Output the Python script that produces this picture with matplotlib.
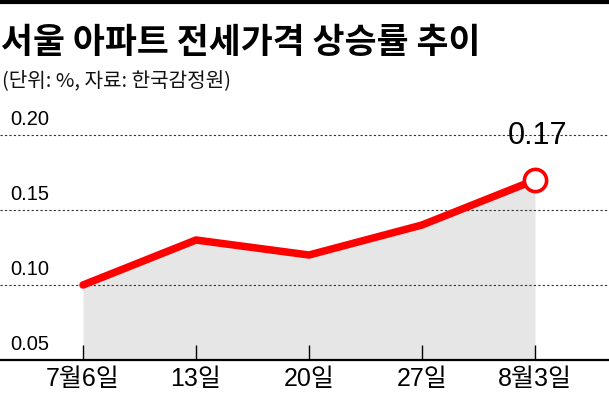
import matplotlib.pyplot as plt
import matplotlib.transforms as mtransforms
from matplotlib import font_manager
from matplotlib.lines import Line2D

# data
weeks = ['7월6일', '13일', '20일', '27일', '8월3일']
rates = [0.10, 0.13, 0.12, 0.14, 0.17]
y_ticks = [0.05, 0.10, 0.15, 0.20]
y_labels = ['0.05', '0.10', '0.15', '0.20']

names = {f.name for f in font_manager.fontManager.ttflist}
num_font = 'Liberation Sans Narrow' if 'Liberation Sans Narrow' in names else 'Liberation Sans'
narrow = num_font == 'Liberation Sans Narrow'
plt.rcParams['font.family'] = [num_font, 'Noto Sans CJK KR', 'DejaVu Sans']

fig = plt.figure(figsize=(6.09, 4.01), dpi=100)
W, H = 609, 401

# top black bar
fig.add_artist(Line2D([0, 1], [1 - 1.5 / H, 1 - 1.5 / H], color='black', lw=3, transform=fig.transFigure))

fig.text(1 / W, 1 - 42 / H, '서울 아파트 전세가격 상승률 추이', fontsize=25, fontweight='heavy',
         family=['Noto Sans CJK KR'], va='center', ha='left')
fig.text(2 / W, 1 - 81 / H, '(단위: %, 자료: 한국감정원)', fontsize=14.5,
         family=['Noto Sans CJK KR'], va='center', ha='left', color='#111111')

ax = fig.add_axes([0, 1 - 360 / H, 1, (360 - 105) / H])
x = list(range(len(weeks)))
ax.fill_between(x, rates, 0.05, color='#e6e6e6', lw=0, zorder=1)
ax.plot(x, rates, color='#ff0000', lw=5.4, solid_capstyle='round', solid_joinstyle='round', zorder=3)
ax.plot(x[-1], rates[-1], 'o', ms=16, mfc='white', mec='#ff0000', mew=2.6, zorder=4)
ax.annotate(f'{rates[-1]:.2f}', (x[-1], rates[-1]), xytext=(2, 21), textcoords='offset points',
            ha='center', va='bottom', fontsize=24 if narrow else 22, family=[num_font])

ax.set_xlim(-83 / 113, 4 + (609 - 535) / 113)
ax.set_ylim(0.05, 0.22)

tr = mtransforms.blended_transform_factory(fig.transFigure, ax.transData)
for v, lab in zip(y_ticks, y_labels):
    if v > 0.05:
        ax.axhline(v, color='#333333', lw=0.8, ls=(0, (2, 2)), zorder=2)
    ax.text(10 / W, v + 0.004, lab, transform=tr, fontsize=16 if narrow else 14.5,
            va='bottom', ha='left', family=[num_font])

for s in ['top', 'left', 'right']:
    ax.spines[s].set_visible(False)
ax.spines['bottom'].set_linewidth(1.6)
ax.set_yticks([])
ax.set_xticks(x)
ax.set_xticklabels(weeks, fontsize=18)
ax.tick_params(axis='x', direction='in', length=11, width=1, pad=5)
ax.patch.set_visible(False)

fig.savefig('out.png', dpi=100)
